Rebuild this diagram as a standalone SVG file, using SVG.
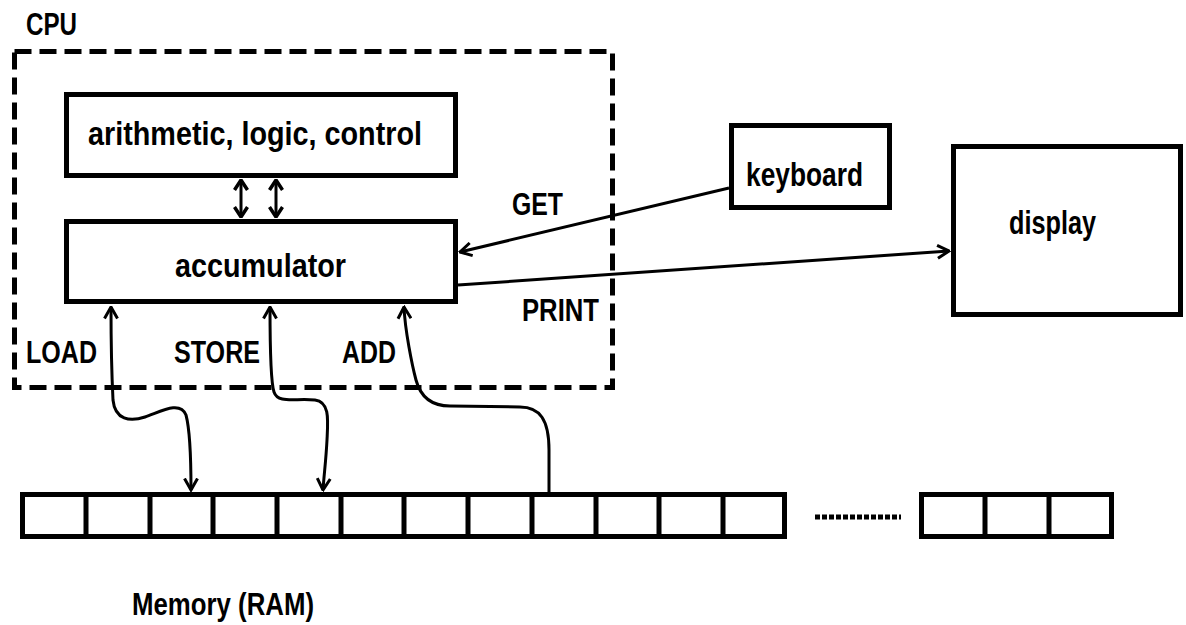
<svg xmlns="http://www.w3.org/2000/svg" width="1186" height="625" viewBox="0 0 1186 625">
<style>
.t{font-family:"Liberation Sans",Arial,sans-serif;font-weight:bold;fill:#000;}
.box{fill:#fff;stroke:#000;stroke-width:5;}
.ln{fill:none;stroke:#000;stroke-width:3;}
.cell{fill:none;stroke:#000;stroke-width:5;}
</style>
<defs>
<marker id="ah" viewBox="0 0 14 16" refX="12.5" refY="8" markerWidth="14" markerHeight="16" markerUnits="userSpaceOnUse" orient="auto-start-reverse">
<path d="M1,1.5 L12.5,8 L1,14.5" fill="none" stroke="#000" stroke-width="3"/>
</marker>
<marker id="ahs" viewBox="0 0 12 16" refX="11" refY="8" markerWidth="12" markerHeight="16" markerUnits="userSpaceOnUse" orient="auto-start-reverse">
<path d="M1,1.5 L11,8 L1,14.5" fill="none" stroke="#000" stroke-width="3.5"/>
</marker>
</defs>
<rect width="1186" height="625" fill="#fff"/>
<g id="cpu">
<rect x="14.5" y="51.5" width="598" height="336" fill="none" stroke="#000" stroke-width="5" stroke-dasharray="17 8"/>
<text class="t" x="26" y="35" font-size="31" textLength="51" lengthAdjust="spacingAndGlyphs">CPU</text>
</g>
<g id="alu">
<rect class="box" x="66.5" y="94.5" width="389" height="81"/>
<text class="t" x="88" y="145" font-size="34" textLength="334" lengthAdjust="spacingAndGlyphs">arithmetic, logic, control</text>
</g>
<g id="accumulator">
<rect class="box" x="66.5" y="221.5" width="389" height="80"/>
<text class="t" x="175" y="277" font-size="33" textLength="171" lengthAdjust="spacingAndGlyphs">accumulator</text>
</g>
<g id="keyboard">
<rect class="box" x="731.5" y="125.5" width="158" height="82"/>
<text class="t" x="746" y="186" font-size="34" textLength="117" lengthAdjust="spacingAndGlyphs">keyboard</text>
</g>
<g id="display">
<rect class="box" x="953.5" y="146.5" width="227" height="168"/>
<text class="t" x="1009" y="234" font-size="33" textLength="87" lengthAdjust="spacingAndGlyphs">display</text>
</g>
<g id="memory">
<rect class="cell" x="22.5" y="494.5" width="762" height="42"/>
<path class="cell" d="M86,494 V537 M150,494 V537 M213,494 V537 M277,494 V537 M341,494 V537 M404,494 V537 M468,494 V537 M532,494 V537 M596,494 V537 M659,494 V537 M723,494 V537"/>
<line x1="815" y1="517" x2="901" y2="517" stroke="#000" stroke-width="5" stroke-dasharray="5 2"/>
<rect class="cell" x="921.5" y="494.5" width="190" height="42"/>
<path class="cell" d="M985,494 V537 M1049,494 V537"/>
<text class="t" x="132" y="615" font-size="31" textLength="182" lengthAdjust="spacingAndGlyphs">Memory (RAM)</text>
</g>
<g id="connectors">
<line class="ln" x1="241" y1="180" x2="241" y2="217" marker-start="url(#ahs)" marker-end="url(#ahs)"/>
<line class="ln" x1="276" y1="180" x2="276" y2="217" marker-start="url(#ahs)" marker-end="url(#ahs)"/>
<line class="ln" x1="729" y1="188" x2="460" y2="252" marker-end="url(#ah)"/>
<line class="ln" x1="458" y1="285" x2="949" y2="251" marker-end="url(#ah)"/>
<path class="ln" d="M111,307 C111,340 112,380 113,400 C115,420 130,422 145,417 C160,412 180,400 186,415 C190,430 191,460 191,490" marker-start="url(#ah)" marker-end="url(#ah)"/>
<path class="ln" d="M270,307 C270,340 270,380 274,392 C278,404 295,398 315,400 C330,402 328,420 327,440 C326,460 324,475 323,490" marker-start="url(#ah)" marker-end="url(#ah)"/>
<path class="ln" d="M549,492 L549,450 C549,420 540,407 520,407 L450,406 C430,406 420,395 416,380 C412,365 405,330 404,307" marker-end="url(#ah)"/>
</g>
<g id="labels">
<text class="t" x="512" y="215" font-size="31" textLength="51" lengthAdjust="spacingAndGlyphs">GET</text>
<text class="t" x="522" y="321" font-size="31" textLength="77" lengthAdjust="spacingAndGlyphs">PRINT</text>
<text class="t" x="26" y="363" font-size="31" textLength="71" lengthAdjust="spacingAndGlyphs">LOAD</text>
<text class="t" x="174" y="363" font-size="31" textLength="86" lengthAdjust="spacingAndGlyphs">STORE</text>
<text class="t" x="342" y="363" font-size="31" textLength="54" lengthAdjust="spacingAndGlyphs">ADD</text>
</g>
</svg>
